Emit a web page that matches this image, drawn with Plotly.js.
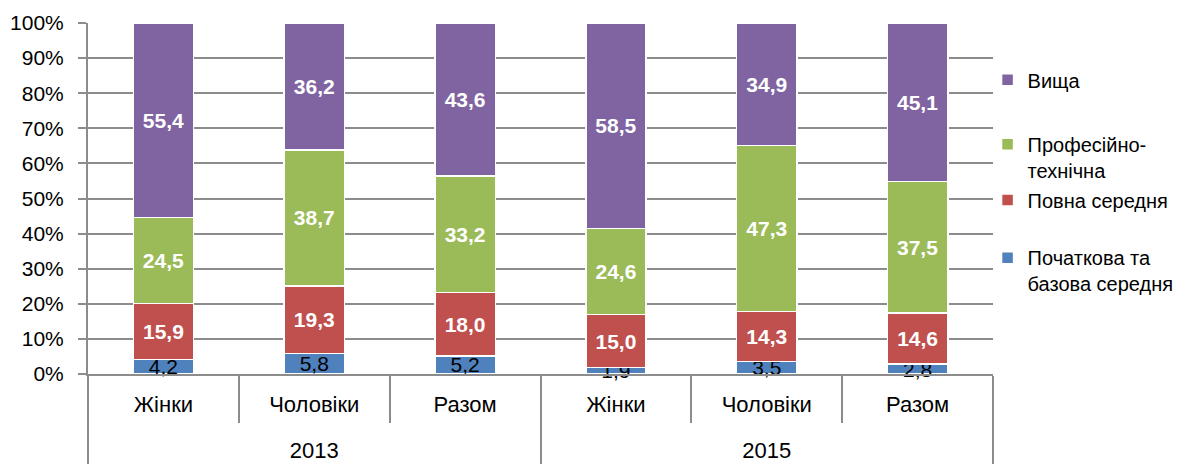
<!DOCTYPE html>
<html>
<head>
<meta charset="utf-8">
<script src="https://cdn.plot.ly/plotly-3.0.1.min.js"></script>
<style>html,body{margin:0;padding:0;background:#fff;}#chart{width:1188px;height:468px;}</style>
</head>
<body>
<div id="chart"></div>
<script>
const years = ['2013','2013','2013','2015','2015','2015'];
const groups = ['Жінки','Чоловіки','Разом','Жінки','Чоловіки','Разом'];
const seriesNames = ['Початкова та<br>базова середня','Повна середня','Професійно-<br>технічна','Вища'];
const basic = [4.2, 5.8, 5.2, 1.9, 3.5, 2.8];
const fullSecondary = [15.9, 19.3, 18.0, 15.0, 14.3, 14.6];
const vocational = [24.5, 38.7, 33.2, 24.6, 47.3, 37.5];
const higher = [55.4, 36.2, 43.6, 58.5, 34.9, 45.1];

const FONT = '"Liberation Sans", Arial, sans-serif';
const GRID = '#8c8c8c';
const colors = ['#4F81BD','#C0504D','#9BBB59','#8064A2'];
const values = [basic, fullSecondary, vocational, higher];
const legendIds = ['legend4','legend3','legend2','legend'];
// leading line break pushes the year level lower, as in the reference
const yearLabels = years.map(y => '<br>' + y);

const traces = values.map((v, i) => ({
  type: 'bar',
  x: [yearLabels, groups],
  y: v,
  name: seriesNames[i],
  legend: legendIds[i],
  marker: {color: colors[i], line: {color: '#ffffff', width: 1.5}},
  texttemplate: '%{y:.1f}',
  textposition: 'inside',
  insidetextanchor: 'middle',
  textangle: 0,
  constraintext: 'none',
  cliponaxis: false,
  textfont: i === 0 ? {family: FONT, size: 21, color: '#000000'} :
                      {family: FONT, size: 21, color: '#ffffff', weight: 'bold'},
  hoverinfo: 'skip'
}));

function leg(y, anchor) {
  return {x: 0.994, xanchor: 'left', y: y, yanchor: anchor, valign: 'top',
          bgcolor: 'rgba(0,0,0,0)', font: {family: FONT, size: 20, color: '#000'},
          itemclick: false, itemdoubleclick: false};
}

const layout = {
  width: 1188, height: 468,
  margin: {l: 88, r: 195, t: 23, b: 94, autoexpand: false},
  paper_bgcolor: '#ffffff', plot_bgcolor: '#ffffff',
  separators: ', ',
  barmode: 'stack',
  bargap: 0.6,
  font: {family: FONT, size: 21, color: '#000'},
  showlegend: true,
  legend: leg(0.838, 'middle'),
  legend2: leg(0.71, 'top'),
  legend3: leg(0.496, 'middle'),
  legend4: leg(0.387, 'top'),
  xaxis: {
    type: 'multicategory',
    showgrid: false,
    showline: true, linecolor: GRID, linewidth: 2,
    ticks: 'outside', tickson: 'boundaries', ticklen: 47, tickcolor: GRID, tickwidth: 2,
    showdividers: true, dividercolor: GRID, dividerwidth: 2,
    ticklabelstandoff: 10,
    automargin: false,
    tickfont: {family: FONT, size: 22, color: '#000'},
    fixedrange: true
  },
  yaxis: {
    range: [0, 100],
    tickmode: 'linear', tick0: 0, dtick: 10,
    ticksuffix: '%',
    showgrid: true, gridcolor: GRID, gridwidth: 2,
    showline: true, linecolor: GRID, linewidth: 2,
    ticks: 'outside', ticklen: 8, tickcolor: GRID, tickwidth: 2,
    ticklabelstandoff: 10,
    automargin: false,
    zeroline: false,
    tickfont: {family: FONT, size: 21, color: '#000'},
    fixedrange: true
  }
};

Plotly.newPlot('chart', traces, layout, {displayModeBar: false, staticPlot: true});
</script>
</body>
</html>
